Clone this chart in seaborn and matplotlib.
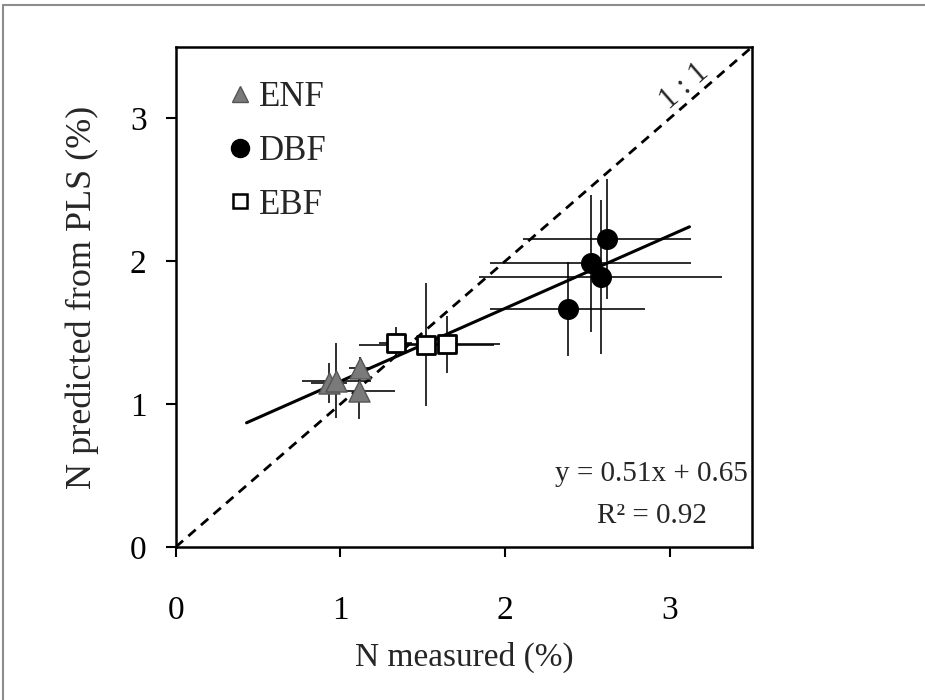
import numpy as np
import pandas as pd
import matplotlib
matplotlib.use("Agg")
import matplotlib.pyplot as plt
import seaborn as sns
from matplotlib.lines import Line2D

# Leaf nitrogen: measured vs. PLS-predicted, mean ± SD per site
forest_types = ["ENF", "DBF", "EBF"]

enf_measured = [0.93, 0.975, 1.12, 1.11]
enf_predicted = [1.145, 1.165, 1.25, 1.095]
enf_measured_err = [0.11, 0.21, 0.07, 0.22]
enf_predicted_err = [0.14, 0.26, 0.08, 0.20]

dbf_measured = [2.62, 2.52, 2.58, 2.38]
dbf_predicted = [2.155, 1.985, 1.89, 1.665]
dbf_measured_err = [0.51, 0.61, 0.74, 0.47]
dbf_predicted_err = [0.42, 0.48, 0.54, 0.33]

ebf_measured = [1.335, 1.52, 1.65]
ebf_predicted = [1.43, 1.415, 1.42]
ebf_measured_err = [0.10, 0.41, 0.32]
ebf_predicted_err = [0.11, 0.43, 0.20]

fit_slope = 0.51
fit_intercept = 0.65
fit_r2 = 0.92

axis_ticks = [0, 1, 2, 3]

sns.set_style("ticks")
plt.rcParams["font.family"] = ["Liberation Serif", "DejaVu Serif"]

frames = []
for name, mx, py, ex, ey in [
    ("ENF", enf_measured, enf_predicted, enf_measured_err, enf_predicted_err),
    ("DBF", dbf_measured, dbf_predicted, dbf_measured_err, dbf_predicted_err),
    ("EBF", ebf_measured, ebf_predicted, ebf_measured_err, ebf_predicted_err),
]:
    frames.append(pd.DataFrame({"type": name, "measured": mx, "predicted": py,
                                "xerr": ex, "yerr": ey}))
df = pd.concat(frames, ignore_index=True)

fig = plt.figure(figsize=(9.25, 7.0), dpi=100)
ax = fig.add_axes([0.19, 0.2186, 0.623, 0.7143])

# error bars
ax.errorbar(df["measured"], df["predicted"], xerr=df["xerr"], yerr=df["yerr"],
            fmt="none", ecolor="black", elinewidth=1.15, capsize=0, zorder=2)

# 1:1 line
lim = [0, 3.5]
sns.lineplot(x=lim, y=lim, ax=ax, color="black", linestyle=(0, (3.5, 2.5)),
             linewidth=2.0, zorder=1)
ax.text(3.09, 3.22, "1 : 1", rotation=41, ha="center", va="center",
        fontsize=22, rotation_mode="anchor")

# linear fit line across the measured range
fit_x = np.array([df["measured"].min() - 0.5, df["measured"].max() + 0.5])
sns.lineplot(x=fit_x, y=fit_slope * fit_x + fit_intercept, ax=ax,
             color="black", linewidth=2.2, zorder=2.5)

styles = {
    "ENF": dict(marker="^", color="#7a7a7a", edgecolor="#555555", s=230, linewidth=1.0),
    "DBF": dict(marker="o", color="black", edgecolor="black", s=200, linewidth=1.0),
    "EBF": dict(marker="s", color="white", edgecolor="black", s=165, linewidth=2.0),
}
for name in forest_types:
    sub = df[df["type"] == name]
    sns.scatterplot(data=sub, x="measured", y="predicted", ax=ax,
                    legend=False, zorder=3, **styles[name])

ax.set_xlim(lim)
ax.set_ylim(lim)
ax.set_xticks(axis_ticks)
ax.set_yticks(axis_ticks)
ax.tick_params(direction="out", length=7, width=1.5, labelsize=24, colors="black")
ax.tick_params(axis="x", pad=28)
ax.tick_params(axis="y", pad=14)
for sp in ax.spines.values():
    sp.set_visible(True)
    sp.set_linewidth(1.8)
    sp.set_color("black")
ax.set_xlabel("N measured (%)", fontsize=24, labelpad=11)
ax.set_ylabel("N predicted from PLS (%)", fontsize=26, labelpad=22)

ax.text(2.89, 0.365, f"y = {fit_slope:.2f}x + {fit_intercept:.2f}\nR² = {fit_r2:.2f}",
        ha="center", va="center", fontsize=21, linespacing=1.8, multialignment="center")

handles = [
    Line2D([], [], linestyle="none", marker="^", markersize=11,
           markerfacecolor="#7a7a7a", markeredgecolor="#555555"),
    Line2D([], [], linestyle="none", marker="o", markersize=13,
           markerfacecolor="black", markeredgecolor="black"),
    Line2D([], [], linestyle="none", marker="s", markersize=10.5,
           markerfacecolor="white", markeredgecolor="black", markeredgewidth=1.8),
]
ax.legend(handles, forest_types, loc="upper left", bbox_to_anchor=(0.0625, 0.96),
          frameon=False, fontsize=25, handlelength=0.8, handletextpad=0.15,
          labelspacing=0.6, borderaxespad=0)

# thin grey frame along the top and left of the figure
fig.add_artist(Line2D([0.0035, 0.0035], [0, 0.993], transform=fig.transFigure,
                      color="#8c8c8c", linewidth=1.5))
fig.add_artist(Line2D([0.0035, 1.0], [0.993, 0.993], transform=fig.transFigure,
                      color="#8c8c8c", linewidth=1.5))

fig.savefig("out.png", dpi=100, facecolor="white")
